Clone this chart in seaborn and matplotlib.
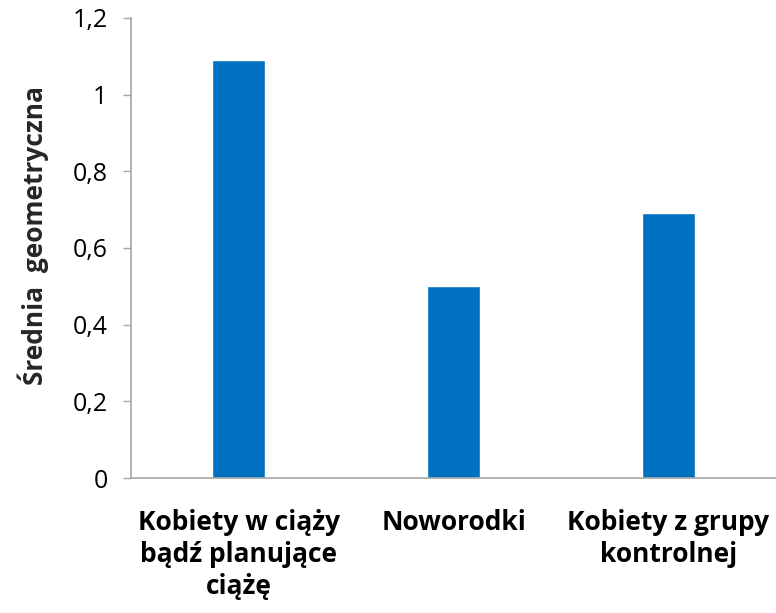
import matplotlib
matplotlib.use("Agg")
import matplotlib.pyplot as plt
import seaborn as sns
import pandas as pd

categories = ["Kobiety w ciąży\nbądź planujące\nciążę", "Noworodki", "Kobiety z grupy\nkontrolnej"]
values = [1.09, 0.50, 0.69]
yticks = [0, 0.2, 0.4, 0.6, 0.8, 1.0, 1.2]
ytick_labels = ["0", "0,2", "0,4", "0,6", "0,8", "1", "1,2"]
ylabel = "Średnia  geometryczna"

sns.set_theme(style="white")
plt.rcParams['font.family'] = ['Open Sans', 'DejaVu Sans']

df = pd.DataFrame({"cat": categories, "val": values})

fig = plt.figure(figsize=(7.76, 6.13), dpi=100)
ax = fig.add_axes([0.169, 0.22, 0.831, 0.751])
sns.barplot(data=df, x="cat", y="val", color="#0070C0", width=0.25, saturation=1, ax=ax)

ax.set_ylim(0, 1.2)
ax.set_xlim(-0.5, 2.5)
ax.set_yticks(yticks)
ax.set_yticklabels(ytick_labels, fontsize=18)
ax.set_xticks(range(len(categories)))
ax.set_xticklabels(categories, fontsize=19, fontweight="bold", linespacing=1.25)
ax.set_xlabel("")
ax.set_ylabel(ylabel, fontsize=19, fontweight="bold")
ax.yaxis.set_label_coords(-0.127, 0.528)

for s in ["top", "right"]:
    ax.spines[s].set_visible(False)
for s in ["left", "bottom"]:
    ax.spines[s].set_color("#A6A6A6")
    ax.spines[s].set_linewidth(1.2)

ax.tick_params(axis="y", which="both", left=True, length=6, width=1, color="#A6A6A6", pad=11, labelcolor="black")
ax.tick_params(axis="x", bottom=False, pad=16, labelcolor="black")

fig.savefig("out.png", dpi=100)
